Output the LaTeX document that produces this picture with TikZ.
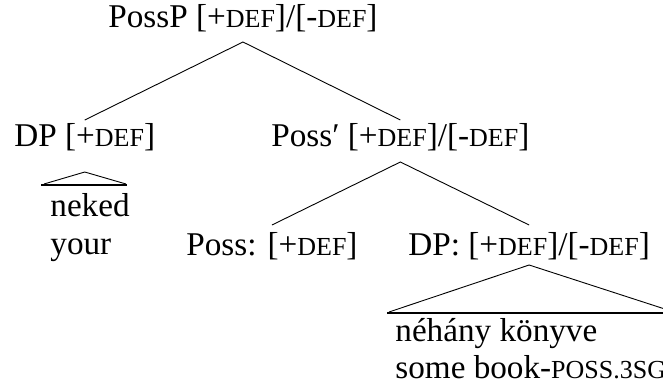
\documentclass[tikz,border=0pt]{standalone}
\usepackage{fontspec}
\setmainfont{Liberation Serif}
% feature values in small capitals
\newcommand{\smc}[1]{{\fontsize{13}{15}\selectfont #1}}
\begin{document}
\begin{tikzpicture}[x=0.5pt,y=-0.5pt,
  lbl/.style={inner sep=0pt, anchor=base west, font=\fontsize{16.6}{19}\selectfont},
  edge/.style={line width=0.45pt},
  bar/.style={line width=1.3pt}]
\clip (0,0) rectangle (663,385);

% labels
\node[lbl] (possp)   at (108,28)  {PossP [+\smc{DEF}]/[-\smc{DEF}]};
\node[lbl] (dp)      at (14,147)  {DP [+\smc{DEF}]};
\node[lbl] (possbar) at (271,147) {Poss′ [+\smc{DEF}]/[-\smc{DEF}]};
\node[lbl] (neked)   at (50,216)  {neked};
\node[lbl] (your)    at (50,254)  {your};
\node[lbl] (poss)    at (186,255) {Poss: [+\smc{DEF}]};
\node[lbl] (dpb)     at (408,255) {DP: [+\smc{DEF}]/[-\smc{DEF}]};
\node[lbl] (nehany)  at (395,341) {néhány könyve};
\node[lbl] (gloss)   at (395,378) {some book-\smc{POSS.3SG}};

% branches
\draw[edge] ([yshift=13.5pt]dp.base) -- ([yshift=-7pt]possp.base)
            -- ([yshift=13.5pt]possbar.base);
\draw[edge] ([yshift=15pt]poss.base) -- ([yshift=-7.5pt]possbar.base)
            -- ([yshift=15pt]dpb.base);

% triangle over "neked"
\coordinate (t1top) at ([yshift=-12.5pt]dp.base);
\coordinate (t1l) at (44,184);
\coordinate (t1r) at (126,184);
\coordinate (b1l) at (41,185);
\coordinate (b1r) at (127,185);
\draw[edge] (t1l) -- (t1top) -- (t1r);
\draw[bar] (b1l) -- (b1r);

% triangle over "néhány könyve"
\coordinate (t2top) at ([yshift=-5pt]dpb.base);
\coordinate (t2l) at (389,312);
\coordinate (t2r) at (674,312);
\coordinate (b2l) at (387,313);
\coordinate (b2r) at (676,313);
\draw[edge] (t2l) -- (t2top) -- (t2r);
\draw[bar] (b2l) -- (b2r);
\end{tikzpicture}
\end{document}
